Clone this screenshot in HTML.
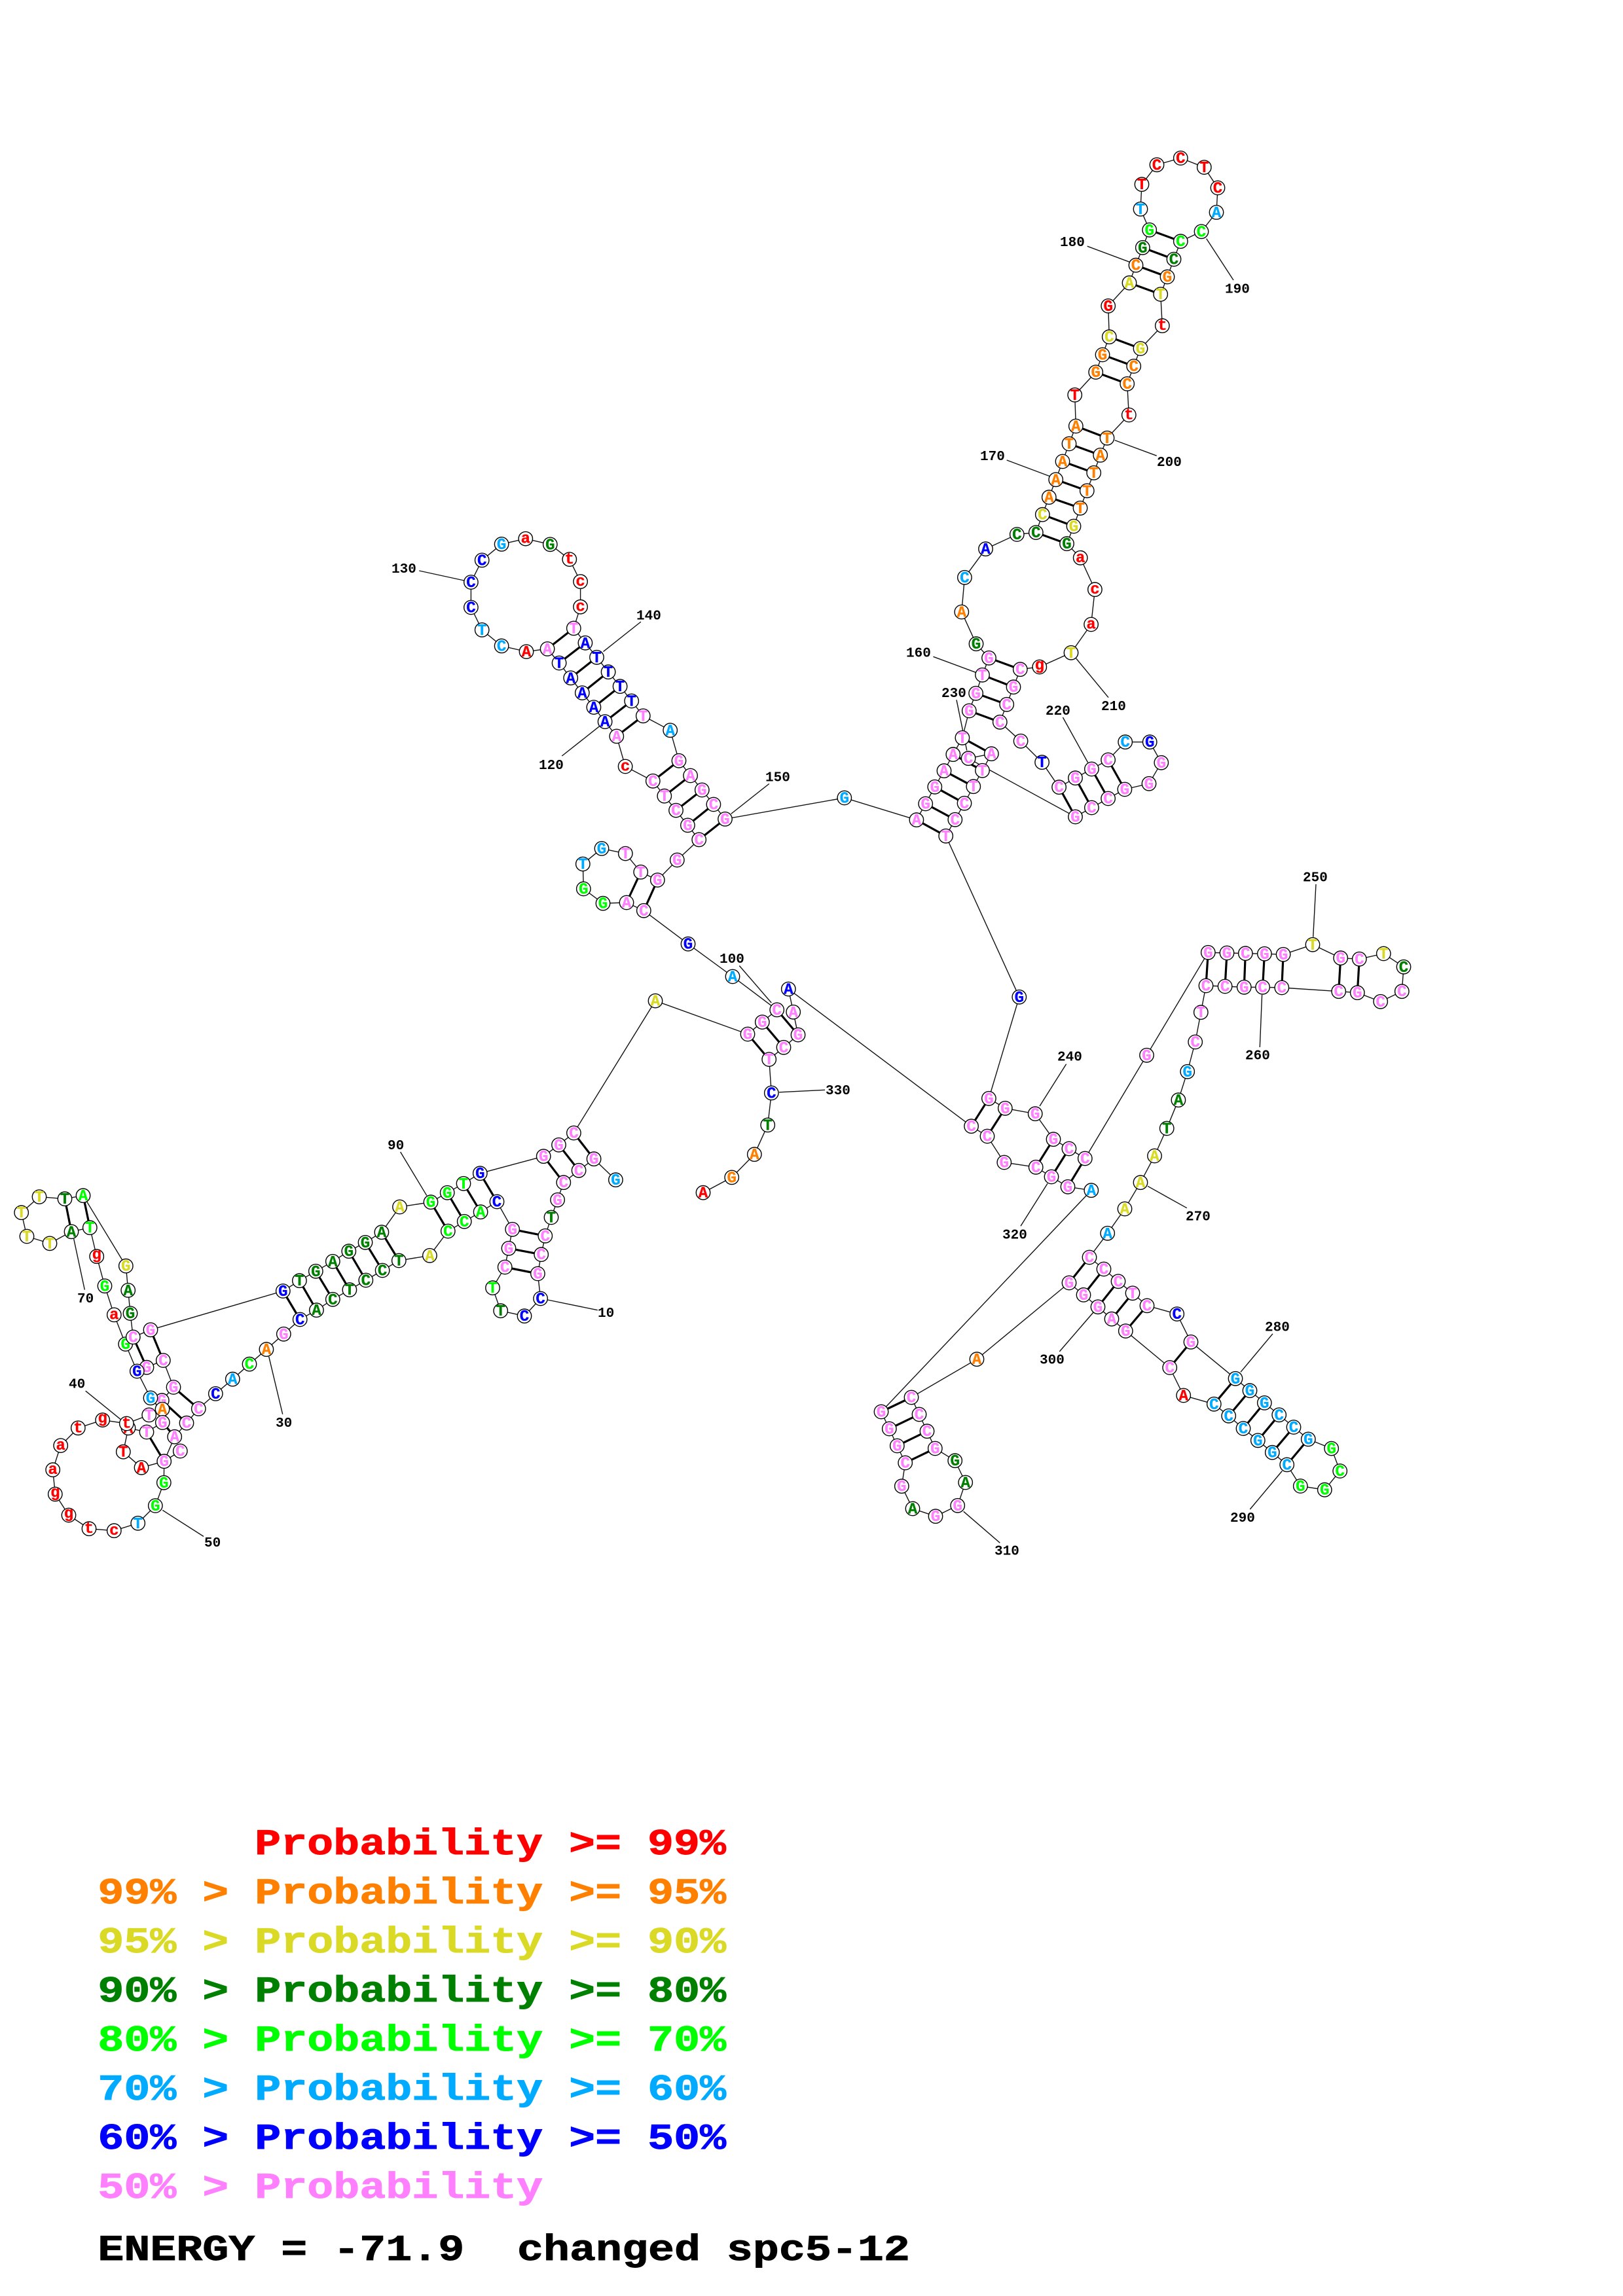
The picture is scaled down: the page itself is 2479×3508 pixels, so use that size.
<!DOCTYPE html>
<html><head><meta charset="utf-8"><title>RNA structure</title>
<style>
html,body{margin:0;padding:0;background:#fff}
svg{display:block}
.b0{fill:none;stroke:#111;stroke-width:1.4}
.bp{fill:none;stroke:#000;stroke-width:3.2}
circle{fill:#fff;stroke:#000;stroke-width:1.4}
.n text{font:bold 24px "Liberation Mono",monospace;text-anchor:middle;stroke-width:.35}
.num{font:bold 21px "Liberation Mono",monospace;fill:#000}
.leg{font:bold 56px "Liberation Mono",monospace;stroke-width:.9}
.r{fill:#f00;stroke:#f00}.o{fill:#ff8000;stroke:#ff8000}.y{fill:#d9d926;stroke:#d9d926}.d{fill:#008000;stroke:#008000}.l{fill:#0f0;stroke:#0f0}.s{fill:#00aaff;stroke:#00aaff}.b{fill:#00f;stroke:#00f}.p{fill:#ff80ff;stroke:#ff80ff}.k{fill:#000;stroke:#000}
</style></head><body>
<svg xmlns="http://www.w3.org/2000/svg" width="2479" height="3508" viewBox="0 0 2479 3508">
<rect width="2479" height="3508" fill="#fff"/>
<!-- backbone -->
<g class="b0">
<polyline points="940.4,1802.7 907.1,1770.7 884.1,1788.3 860.8,1806.7 851.6,1833.3 842,1860 832.8,1888.3 826.7,1916.7 821.4,1946 825.6,1984 801,2010.7 764.7,2002.7 752.5,1967.7 771.2,1936 777,1907.3 782.7,1878.3 759,1836 734.1,1851.7 709.2,1866.3 684.3,1881 656.4,1918.3 609.3,1926 584.1,1941 558.8,1956 533.9,1970.7 508.3,1985.3 483.4,2001.7 458.2,2016 433.3,2038.3 406.9,2061.7 381,2084.2 355.3,2107.2 329.3,2129.4 303.3,2152.4 285,2174.2 266.7,2195.2 250.7,2232.7 275.3,2217"/>
<polyline points="227.7,2161.9 193.3,2175 156.7,2169.6 119.3,2181.8 92.7,2208.6 80.7,2245.7 84.3,2282.9 105,2315 136,2335.7 174.3,2338.7 210.7,2327.3 237.3,2300.5 250.3,2265.3 250.7,2232.7 216,2242.3 188.3,2218.2 196,2181.8 224,2188 248.3,2173.4 248,2153.1 227.7,2161.9"/>
<polyline points="127,1826.7 99,1831.7 60,1828.6 32.7,1852.7 41,1889 76,1899.8 109,1881.8 137.3,1875.7 147.7,1919.7 160,1964.8 174.3,2008.9 191.7,2053.6 209.3,2095 230,2135.9 248,2153.1"/>
<polyline points="127,1826.7 192.3,1934.2 195.7,1971.4 199,2006.6 203.3,2042.9 230,2031.8 432.3,1972.5 457.4,1956.7 482.3,1942.3 508.3,1927.3 532.8,1911.7 558,1898.3 582.9,1882.7 610.5,1844 658,1836.7 683.2,1822.3 708,1808.3 733.3,1792.7 830.2,1766.7 853.5,1749.3 876.4,1731 1001,1529.1 1142,1580 1164.3,1561.6 1186.7,1542.9 1119,1492 1051,1442.2 983.3,1391.3 957,1379 921,1380.2 891.3,1358 890.3,1320.1 919,1296.4 955.3,1304.1 978.7,1332.4 1004.3,1344.6 1034.3,1314 1067.7,1282.9 1050.4,1260.9 1032.5,1238.1 1014.8,1216.2 997.3,1193.3 955.1,1171 941.8,1124.9 924.1,1102.6 906.9,1080.6 889.3,1058.6 871.7,1035.8 854.1,1013 836.1,991.4 804,995.6 766.1,986.9 736.2,962.4 719.4,928 719.4,889.5 736.2,855.9 766.1,831.4 802.8,823.1 840.3,831.8 869.8,854.6 886.6,888.6 886.6,927.2 876.3,959.9 893.9,982.3 911.5,1004.3 929.1,1026.7 947.1,1048.7 964.7,1071 982.3,1093.8 1023.7,1115.8 1037,1162.3 1054.6,1185 1072.3,1207 1089.9,1229 1107.5,1251.4 1289.8,1219 1399.9,1252.7 1413.7,1228 1427.8,1202.3 1442,1177.7 1455.8,1152.7 1469.9,1127.3 1480.3,1086 1490.6,1059.3 1500.5,1031.3 1510.5,1005.3 1491,983.7 1468.8,935 1473.4,882.3 1505.5,838.7 1553.3,816.5 1582.3,813.6 1592.3,786.2 1602.3,759.7 1612.7,732.8 1623,705 1633,678 1643.3,651 1641.7,603.4 1673.7,568.6 1684,542 1694.3,514.7 1692.7,467.4 1725,432.2 1735,405.2 1745.3,378.3 1755.7,351.3 1742,319.4 1744,281.7 1767,251.8 1803.3,241.5 1839.3,255.6 1860,287 1858,324.4 1835,353.8 1803.3,368.7 1793,396.1 1783,423 1772.7,449.6 1775.3,497.7 1742,532.5 1731.7,559.5 1721.7,586.4 1724.3,634 1691,669.3 1680.7,695.4 1670.7,722.4 1660.3,749.8 1650,776.3 1640,804 1629.5,830.7 1650.2,852.3 1672.4,900.7 1666.6,954 1636,997.3 1587.8,1019 1558.3,1022.7 1548,1049.7 1537.7,1076.3 1527.3,1103.3 1559.1,1132.3 1591.6,1164.7 1617.6,1202.7 1642.5,1188.7 1667.4,1175 1692.6,1161 1718.7,1133.7 1756.2,1133.7 1773.8,1165.3 1755,1197.3 1717.9,1206 1692.6,1220 1667.4,1234 1642.5,1248 1479.1,1158.7 1514.3,1151.7 1500.5,1177.3 1486.8,1201.7 1473,1227.3 1458.8,1252.3 1444.7,1277.3 1556.8,1523.3 1510.4,1678.3 1535.3,1693.3 1581.2,1701.7 1609,1740.7 1632.9,1755 1657.3,1770 1751.5,1612.3 1845.3,1455.3 1874,1456 1902.3,1456.7 1931.4,1457.3 1960.1,1458.3 2005,1443.3 2047.7,1463.7 2076.3,1465.3 2113.3,1457 2144,1477.3 2141.3,1514.7 2108.7,1530.3 2073.3,1516.7 2044.7,1514.7 1957.8,1509 1928.6,1508.3 1900.3,1508.3 1871.1,1507 1842,1506 1834.3,1546.7 1825.7,1592 1813.7,1637.3 1799.9,1680.7 1782.2,1724 1763.5,1766 1742,1806.7 1718,1847 1691.7,1884.3 1664,1921 1686,1939 1708,1957.8 1730,1975.8 1752,1994.9 1797.7,2007.6 1819,2050.4 1887,2106.3 1909,2124.7 1931.3,2143.4 1953.7,2161.8 1976,2180.5 1998.3,2198.9 2033.7,2213.1 2046.7,2247.5 2023.3,2276.2 1986.3,2270.5 1965.7,2237.9 1943.3,2219.2 1921.3,2200.8 1899,2182.5 1876.7,2163.3 1854.3,2145.3 1807.7,2132 1786.7,2089.5 1719.3,2033.6 1698,2015.2 1677,1996.8 1655,1978.4 1633,1960 1492,2076.7 1392,2135 1404,2161 1416,2186.7 1428.3,2213 1458.7,2231.7 1474.7,2265 1462.7,2300.3 1429,2316.7 1394,2305 1377.3,2270.7 1382.7,2235 1370.3,2209 1358.3,2183 1346,2157 1666.8,1818.7 1631,1813.3 1606,1798 1582.2,1783.3 1533.8,1776 1508,1736 1483.6,1720.7 1204.3,1511.1 1211.7,1546.3 1219,1581.1 1197,1600.3 1174.7,1618.6 1178.3,1669.9 1172.7,1718.9 1152.3,1763.7 1117.7,1798.9 1074,1822.2"/>
<polyline points="203.3,2042.9 224,2089.2 249.3,2078.5 265,2119.5 247.3,2139.7 248.3,2173.4"/>
<!-- number ticks -->
<path d="M836.3,1986L912.8,2001.7M431.7,2160.8L410.7,2072.8M130.7,2125.2L184,2168.4M248.3,2307.4L311,2347.5M112.7,1892.9L129.3,1970.6M611.6,1760L651.8,1826.7M1129.3,1475.5L1178.3,1532.2M858.3,1155L915.7,1109.6M640.2,872L709,887M978.9,950L921.5,995.6M1174.8,1197.5L1116.6,1243.5M1425.5,1003.3L1490.2,1027.3M1537.7,703L1602.7,727.4M1660.7,376.2L1725,400.2M1842.7,364.6L1884,428M1702.7,672.6L1766.7,696.3M1643.7,1006L1693,1065.7M1623.4,1096L1661.6,1165M1461,1069.3L1476.8,1146.7M1628.6,1625.7L1588,1690M2010,1351L2005.7,1431.7M1927.6,1520L1924.3,1600M1812.8,1845.7L1753,1812.3M1944,2037.8L1895,2096.3M1909.3,2306L1958.3,2247.5M1618.3,2065L1677,1997M1471.7,2309.3L1527.3,2357.3M1559,1873.3L1600,1808.3M1190,1668.8L1260,1665.3"/>
</g>
<!-- base pairs -->
<path class="bp" d="M782.7,1878.3L832.8,1888.3M777,1907.3L826.7,1916.7M771.2,1936L821.4,1946M876.4,1731L907.1,1770.7M853.5,1749.3L884.1,1788.3M830.2,1766.7L860.8,1806.7M733.3,1792.7L759,1836M708,1808.3L734.1,1851.7M683.2,1822.3L709.2,1866.3M658,1836.7L684.3,1881M582.9,1882.7L609.3,1926M558,1898.3L584.1,1941M532.8,1911.7L558.8,1956M508.3,1927.3L533.9,1970.7M482.3,1942.3L508.3,1985.3M457.4,1956.7L483.4,2001.7M432.3,1972.5L458.2,2016M99,1831.7L109,1881.8M127,1826.7L137.3,1875.7M230,2031.8L249.3,2078.5M203.3,2042.9L224,2089.2M265,2119.5L303.3,2152.4M247.3,2139.7L285,2174.2M248.3,2173.4L266.7,2195.2M224,2188L250.7,2232.7M978.7,1332.4L957,1379M1004.3,1344.6L983.3,1391.3M1186.7,1542.9L1219,1581.1M1164.3,1561.6L1197,1600.3M1142,1580L1174.7,1618.6M876.3,959.9L836.1,991.4M893.9,982.3L854.1,1013M911.5,1004.3L871.7,1035.8M929.1,1026.7L889.3,1058.6M947.1,1048.7L906.9,1080.6M964.7,1071L924.1,1102.6M982.3,1093.8L941.8,1124.9M1037,1162.3L997.3,1193.3M1054.6,1185L1014.8,1216.2M1072.3,1207L1032.5,1238.1M1089.9,1229L1050.4,1260.9M1107.5,1251.4L1067.7,1282.9M1510.5,1005.3L1558.3,1022.7M1500.5,1031.3L1548,1049.7M1490.6,1059.3L1537.7,1076.3M1480.3,1086L1527.3,1103.3M1469.9,1127.3L1514.3,1151.7M1455.8,1152.7L1500.5,1177.3M1442,1177.7L1486.8,1201.7M1427.8,1202.3L1473,1227.3M1413.7,1228L1458.8,1252.3M1399.9,1252.7L1444.7,1277.3M1617.6,1202.7L1642.5,1248M1642.5,1188.7L1667.4,1234M1667.4,1175L1692.6,1220M1692.6,1161L1717.9,1206M1582.3,813.6L1629.5,830.7M1592.3,786.2L1640,804M1602.3,759.7L1650,776.3M1612.7,732.8L1660.3,749.8M1623,705L1670.7,722.4M1633,678L1680.7,695.4M1643.3,651L1691,669.3M1673.7,568.6L1721.7,586.4M1684,542L1731.7,559.5M1694.3,514.7L1742,532.5M1725,432.2L1772.7,449.6M1735,405.2L1783,423M1745.3,378.3L1793,396.1M1755.7,351.3L1803.3,368.7M1510.4,1678.3L1483.6,1720.7M1535.3,1693.3L1508,1736M1609,1740.7L1582.2,1783.3M1632.9,1755L1606,1798M1657.3,1770L1631,1813.3M1845.3,1455.3L1842,1506M1874,1456L1871.1,1507M1902.3,1456.7L1900.3,1508.3M1931.4,1457.3L1928.6,1508.3M1960.1,1458.3L1957.8,1509M2047.7,1463.7L2044.7,1514.7M2076.3,1465.3L2073.3,1516.7M1664,1921L1633,1960M1686,1939L1655,1978.4M1708,1957.8L1677,1996.8M1730,1975.8L1698,2015.2M1752,1994.9L1719.3,2033.6M1819,2050.4L1786.7,2089.5M1887,2106.3L1854.3,2145.3M1909,2124.7L1876.7,2163.3M1931.3,2143.4L1899,2182.5M1953.7,2161.8L1921.3,2200.8M1976,2180.5L1943.3,2219.2M1998.3,2198.9L1965.7,2237.9M1392,2135L1346,2157M1404,2161L1358.3,2183M1416,2186.7L1370.3,2209M1428.3,2213L1382.7,2235"/>
<!-- nodes -->
<g class="n">
<circle cx="940.4" cy="1802.7" r="10.7"/><text class="s" x="940.4" y="1802.7" dy="7.5">G</text>
<circle cx="907.1" cy="1770.7" r="10.7"/><text class="p" x="907.1" y="1770.7" dy="7.5">G</text>
<circle cx="884.1" cy="1788.3" r="10.7"/><text class="p" x="884.1" y="1788.3" dy="7.5">C</text>
<circle cx="860.8" cy="1806.7" r="10.7"/><text class="p" x="860.8" y="1806.7" dy="7.5">C</text>
<circle cx="851.6" cy="1833.3" r="10.7"/><text class="p" x="851.6" y="1833.3" dy="7.5">G</text>
<circle cx="842" cy="1860" r="10.7"/><text class="d" x="842" y="1860" dy="7.5">T</text>
<circle cx="832.8" cy="1888.3" r="10.7"/><text class="p" x="832.8" y="1888.3" dy="7.5">C</text>
<circle cx="826.7" cy="1916.7" r="10.7"/><text class="p" x="826.7" y="1916.7" dy="7.5">C</text>
<circle cx="821.4" cy="1946" r="10.7"/><text class="p" x="821.4" y="1946" dy="7.5">G</text>
<circle cx="825.6" cy="1984" r="10.7"/><text class="b" x="825.6" y="1984" dy="7.5">C</text>
<circle cx="801" cy="2010.7" r="10.7"/><text class="b" x="801" y="2010.7" dy="7.5">C</text>
<circle cx="764.7" cy="2002.7" r="10.7"/><text class="d" x="764.7" y="2002.7" dy="7.5">T</text>
<circle cx="752.5" cy="1967.7" r="10.7"/><text class="l" x="752.5" y="1967.7" dy="7.5">T</text>
<circle cx="771.2" cy="1936" r="10.7"/><text class="p" x="771.2" y="1936" dy="7.5">C</text>
<circle cx="777" cy="1907.3" r="10.7"/><text class="p" x="777" y="1907.3" dy="7.5">G</text>
<circle cx="782.7" cy="1878.3" r="10.7"/><text class="p" x="782.7" y="1878.3" dy="7.5">G</text>
<circle cx="759" cy="1836" r="10.7"/><text class="b" x="759" y="1836" dy="7.5">C</text>
<circle cx="734.1" cy="1851.7" r="10.7"/><text class="l" x="734.1" y="1851.7" dy="7.5">A</text>
<circle cx="709.2" cy="1866.3" r="10.7"/><text class="l" x="709.2" y="1866.3" dy="7.5">C</text>
<circle cx="684.3" cy="1881" r="10.7"/><text class="l" x="684.3" y="1881" dy="7.5">C</text>
<circle cx="656.4" cy="1918.3" r="10.7"/><text class="y" x="656.4" y="1918.3" dy="7.5">A</text>
<circle cx="609.3" cy="1926" r="10.7"/><text class="d" x="609.3" y="1926" dy="7.5">T</text>
<circle cx="584.1" cy="1941" r="10.7"/><text class="d" x="584.1" y="1941" dy="7.5">C</text>
<circle cx="558.8" cy="1956" r="10.7"/><text class="d" x="558.8" y="1956" dy="7.5">C</text>
<circle cx="533.9" cy="1970.7" r="10.7"/><text class="d" x="533.9" y="1970.7" dy="7.5">T</text>
<circle cx="508.3" cy="1985.3" r="10.7"/><text class="d" x="508.3" y="1985.3" dy="7.5">C</text>
<circle cx="483.4" cy="2001.7" r="10.7"/><text class="d" x="483.4" y="2001.7" dy="7.5">A</text>
<circle cx="458.2" cy="2016" r="10.7"/><text class="b" x="458.2" y="2016" dy="7.5">C</text>
<circle cx="433.3" cy="2038.3" r="10.7"/><text class="p" x="433.3" y="2038.3" dy="7.5">G</text>
<circle cx="406.9" cy="2061.7" r="10.7"/><text class="o" x="406.9" y="2061.7" dy="7.5">A</text>
<circle cx="381" cy="2084.2" r="10.7"/><text class="l" x="381" y="2084.2" dy="7.5">C</text>
<circle cx="355.3" cy="2107.2" r="10.7"/><text class="s" x="355.3" y="2107.2" dy="7.5">A</text>
<circle cx="329.3" cy="2129.4" r="10.7"/><text class="b" x="329.3" y="2129.4" dy="7.5">C</text>
<circle cx="303.3" cy="2152.4" r="10.7"/><text class="p" x="303.3" y="2152.4" dy="7.5">C</text>
<circle cx="285" cy="2174.2" r="10.7"/><text class="p" x="285" y="2174.2" dy="7.5">C</text>
<circle cx="127" cy="1826.7" r="10.7"/><text class="l" x="127" y="1826.7" dy="7.5">A</text>
<circle cx="99" cy="1831.7" r="10.7"/><text class="d" x="99" y="1831.7" dy="7.5">T</text>
<circle cx="60" cy="1828.6" r="10.7"/><text class="y" x="60" y="1828.6" dy="7.5">T</text>
<circle cx="32.7" cy="1852.7" r="10.7"/><text class="y" x="32.7" y="1852.7" dy="7.5">T</text>
<circle cx="41" cy="1889" r="10.7"/><text class="y" x="41" y="1889" dy="7.5">T</text>
<circle cx="76" cy="1899.8" r="10.7"/><text class="y" x="76" y="1899.8" dy="7.5">T</text>
<circle cx="109" cy="1881.8" r="10.7"/><text class="d" x="109" y="1881.8" dy="7.5">A</text>
<circle cx="137.3" cy="1875.7" r="10.7"/><text class="l" x="137.3" y="1875.7" dy="7.5">T</text>
<circle cx="147.7" cy="1919.7" r="10.7"/><text class="r" x="147.7" y="1919.7" dy="4">g</text>
<circle cx="160" cy="1964.8" r="10.7"/><text class="l" x="160" y="1964.8" dy="7.5">G</text>
<circle cx="174.3" cy="2008.9" r="10.7"/><text class="r" x="174.3" y="2008.9" dy="6.5">a</text>
<circle cx="192.3" cy="1934.2" r="10.7"/><text class="y" x="192.3" y="1934.2" dy="7.5">G</text>
<circle cx="195.7" cy="1971.4" r="10.7"/><text class="d" x="195.7" y="1971.4" dy="7.5">A</text>
<circle cx="199" cy="2006.6" r="10.7"/><text class="d" x="199" y="2006.6" dy="7.5">G</text>
<circle cx="230" cy="2031.8" r="10.7"/><text class="p" x="230" y="2031.8" dy="7.5">G</text>
<circle cx="249.3" cy="2078.5" r="10.7"/><text class="p" x="249.3" y="2078.5" dy="7.5">C</text>
<circle cx="265" cy="2119.5" r="10.7"/><text class="p" x="265" y="2119.5" dy="7.5">G</text>
<circle cx="224" cy="2089.2" r="10.7"/><text class="p" x="224" y="2089.2" dy="7.5">G</text>
<circle cx="247.3" cy="2139.7" r="10.7"/><text class="p" x="247.3" y="2139.7" dy="7.5">G</text>
<circle cx="191.7" cy="2053.6" r="10.7"/><text class="l" x="191.7" y="2053.6" dy="7.5">G</text>
<circle cx="203.3" cy="2042.9" r="10.7"/><text class="p" x="203.3" y="2042.9" dy="7.5">C</text>
<circle cx="209.3" cy="2095" r="10.7"/><text class="b" x="209.3" y="2095" dy="7.5">G</text>
<circle cx="230" cy="2135.9" r="10.7"/><text class="s" x="230" y="2135.9" dy="7.5">G</text>
<circle cx="275.3" cy="2217" r="10.7"/><text class="p" x="275.3" y="2217" dy="7.5">C</text>
<circle cx="266.7" cy="2195.2" r="10.7"/><text class="p" x="266.7" y="2195.2" dy="7.5">A</text>
<circle cx="196" cy="2181.8" r="10.7"/><text class="r" x="196" y="2181.8" dy="7.5">A</text>
<circle cx="193.3" cy="2175" r="10.7"/><text class="r" x="193.3" y="2175" dy="6.5">t</text>
<circle cx="188.3" cy="2218.2" r="10.7"/><text class="r" x="188.3" y="2218.2" dy="7.5">T</text>
<circle cx="216" cy="2242.3" r="10.7"/><text class="r" x="216" y="2242.3" dy="7.5">A</text>
<circle cx="227.7" cy="2161.9" r="10.7"/><text class="p" x="227.7" y="2161.9" dy="7.5">T</text>
<circle cx="224" cy="2188" r="10.7"/><text class="p" x="224" y="2188" dy="7.5">T</text>
<circle cx="248" cy="2153.1" r="10.7"/><text class="o" x="248" y="2153.1" dy="7.5">A</text>
<circle cx="248.3" cy="2173.4" r="10.7"/><text class="p" x="248.3" y="2173.4" dy="7.5">G</text>
<circle cx="250.7" cy="2232.7" r="10.7"/><text class="p" x="250.7" y="2232.7" dy="7.5">G</text>
<circle cx="250.3" cy="2265.3" r="10.7"/><text class="l" x="250.3" y="2265.3" dy="7.5">G</text>
<circle cx="237.3" cy="2300.5" r="10.7"/><text class="l" x="237.3" y="2300.5" dy="7.5">G</text>
<circle cx="210.7" cy="2327.3" r="10.7"/><text class="s" x="210.7" y="2327.3" dy="7.5">T</text>
<circle cx="174.3" cy="2338.7" r="10.7"/><text class="r" x="174.3" y="2338.7" dy="6.5">c</text>
<circle cx="136" cy="2335.7" r="10.7"/><text class="r" x="136" y="2335.7" dy="6.5">t</text>
<circle cx="105" cy="2315" r="10.7"/><text class="r" x="105" y="2315" dy="4">g</text>
<circle cx="84.3" cy="2282.9" r="10.7"/><text class="r" x="84.3" y="2282.9" dy="4">g</text>
<circle cx="80.7" cy="2245.7" r="10.7"/><text class="r" x="80.7" y="2245.7" dy="6.5">a</text>
<circle cx="92.7" cy="2208.6" r="10.7"/><text class="r" x="92.7" y="2208.6" dy="6.5">a</text>
<circle cx="119.3" cy="2181.8" r="10.7"/><text class="r" x="119.3" y="2181.8" dy="6.5">t</text>
<circle cx="156.7" cy="2169.6" r="10.7"/><text class="r" x="156.7" y="2169.6" dy="4">g</text>
<circle cx="432.3" cy="1972.5" r="10.7"/><text class="b" x="432.3" y="1972.5" dy="7.5">G</text>
<circle cx="457.4" cy="1956.7" r="10.7"/><text class="d" x="457.4" y="1956.7" dy="7.5">T</text>
<circle cx="482.3" cy="1942.3" r="10.7"/><text class="d" x="482.3" y="1942.3" dy="7.5">G</text>
<circle cx="508.3" cy="1927.3" r="10.7"/><text class="d" x="508.3" y="1927.3" dy="7.5">A</text>
<circle cx="532.8" cy="1911.7" r="10.7"/><text class="d" x="532.8" y="1911.7" dy="7.5">G</text>
<circle cx="558" cy="1898.3" r="10.7"/><text class="d" x="558" y="1898.3" dy="7.5">G</text>
<circle cx="582.9" cy="1882.7" r="10.7"/><text class="d" x="582.9" y="1882.7" dy="7.5">A</text>
<circle cx="610.5" cy="1844" r="10.7"/><text class="y" x="610.5" y="1844" dy="7.5">A</text>
<circle cx="658" cy="1836.7" r="10.7"/><text class="l" x="658" y="1836.7" dy="7.5">G</text>
<circle cx="683.2" cy="1822.3" r="10.7"/><text class="l" x="683.2" y="1822.3" dy="7.5">G</text>
<circle cx="708" cy="1808.3" r="10.7"/><text class="l" x="708" y="1808.3" dy="7.5">T</text>
<circle cx="733.3" cy="1792.7" r="10.7"/><text class="b" x="733.3" y="1792.7" dy="7.5">G</text>
<circle cx="830.2" cy="1766.7" r="10.7"/><text class="p" x="830.2" y="1766.7" dy="7.5">G</text>
<circle cx="853.5" cy="1749.3" r="10.7"/><text class="p" x="853.5" y="1749.3" dy="7.5">G</text>
<circle cx="876.4" cy="1731" r="10.7"/><text class="p" x="876.4" y="1731" dy="7.5">C</text>
<circle cx="1001" cy="1529.1" r="10.7"/><text class="y" x="1001" y="1529.1" dy="7.5">A</text>
<circle cx="1142" cy="1580" r="10.7"/><text class="p" x="1142" y="1580" dy="7.5">G</text>
<circle cx="1164.3" cy="1561.6" r="10.7"/><text class="p" x="1164.3" y="1561.6" dy="7.5">G</text>
<circle cx="1186.7" cy="1542.9" r="10.7"/><text class="p" x="1186.7" y="1542.9" dy="7.5">C</text>
<circle cx="1204.3" cy="1511.1" r="10.7"/><text class="b" x="1204.3" y="1511.1" dy="7.5">A</text>
<circle cx="1211.7" cy="1546.3" r="10.7"/><text class="p" x="1211.7" y="1546.3" dy="7.5">A</text>
<circle cx="1219" cy="1581.1" r="10.7"/><text class="p" x="1219" y="1581.1" dy="7.5">G</text>
<circle cx="1197" cy="1600.3" r="10.7"/><text class="p" x="1197" y="1600.3" dy="7.5">C</text>
<circle cx="1174.7" cy="1618.6" r="10.7"/><text class="p" x="1174.7" y="1618.6" dy="7.5">T</text>
<circle cx="1178.3" cy="1669.9" r="10.7"/><text class="b" x="1178.3" y="1669.9" dy="7.5">C</text>
<circle cx="1172.7" cy="1718.9" r="10.7"/><text class="d" x="1172.7" y="1718.9" dy="7.5">T</text>
<circle cx="1152.3" cy="1763.7" r="10.7"/><text class="o" x="1152.3" y="1763.7" dy="7.5">A</text>
<circle cx="1117.7" cy="1798.9" r="10.7"/><text class="o" x="1117.7" y="1798.9" dy="7.5">G</text>
<circle cx="1074" cy="1822.2" r="10.7"/><text class="r" x="1074" y="1822.2" dy="7.5">A</text>
<circle cx="1119" cy="1492" r="10.7"/><text class="s" x="1119" y="1492" dy="7.5">A</text>
<circle cx="1051" cy="1442.2" r="10.7"/><text class="b" x="1051" y="1442.2" dy="7.5">G</text>
<circle cx="983.3" cy="1391.3" r="10.7"/><text class="p" x="983.3" y="1391.3" dy="7.5">C</text>
<circle cx="957" cy="1379" r="10.7"/><text class="p" x="957" y="1379" dy="7.5">A</text>
<circle cx="921" cy="1380.2" r="10.7"/><text class="l" x="921" y="1380.2" dy="7.5">G</text>
<circle cx="891.3" cy="1358" r="10.7"/><text class="l" x="891.3" y="1358" dy="7.5">G</text>
<circle cx="890.3" cy="1320.1" r="10.7"/><text class="s" x="890.3" y="1320.1" dy="7.5">T</text>
<circle cx="919" cy="1296.4" r="10.7"/><text class="s" x="919" y="1296.4" dy="7.5">G</text>
<circle cx="955.3" cy="1304.1" r="10.7"/><text class="p" x="955.3" y="1304.1" dy="7.5">T</text>
<circle cx="978.7" cy="1332.4" r="10.7"/><text class="p" x="978.7" y="1332.4" dy="7.5">T</text>
<circle cx="1004.3" cy="1344.6" r="10.7"/><text class="p" x="1004.3" y="1344.6" dy="7.5">G</text>
<circle cx="1034.3" cy="1314" r="10.7"/><text class="p" x="1034.3" y="1314" dy="7.5">G</text>
<circle cx="1067.7" cy="1282.9" r="10.7"/><text class="p" x="1067.7" y="1282.9" dy="7.5">C</text>
<circle cx="1050.4" cy="1260.9" r="10.7"/><text class="p" x="1050.4" y="1260.9" dy="7.5">G</text>
<circle cx="1032.5" cy="1238.1" r="10.7"/><text class="p" x="1032.5" y="1238.1" dy="7.5">C</text>
<circle cx="1014.8" cy="1216.2" r="10.7"/><text class="p" x="1014.8" y="1216.2" dy="7.5">T</text>
<circle cx="997.3" cy="1193.3" r="10.7"/><text class="p" x="997.3" y="1193.3" dy="7.5">C</text>
<circle cx="955.1" cy="1171" r="10.7"/><text class="r" x="955.1" y="1171" dy="6.5">c</text>
<circle cx="941.8" cy="1124.9" r="10.7"/><text class="p" x="941.8" y="1124.9" dy="7.5">A</text>
<circle cx="924.1" cy="1102.6" r="10.7"/><text class="b" x="924.1" y="1102.6" dy="7.5">A</text>
<circle cx="906.9" cy="1080.6" r="10.7"/><text class="b" x="906.9" y="1080.6" dy="7.5">A</text>
<circle cx="889.3" cy="1058.6" r="10.7"/><text class="b" x="889.3" y="1058.6" dy="7.5">A</text>
<circle cx="871.7" cy="1035.8" r="10.7"/><text class="b" x="871.7" y="1035.8" dy="7.5">A</text>
<circle cx="854.1" cy="1013" r="10.7"/><text class="b" x="854.1" y="1013" dy="7.5">T</text>
<circle cx="836.1" cy="991.4" r="10.7"/><text class="p" x="836.1" y="991.4" dy="7.5">A</text>
<circle cx="804" cy="995.6" r="10.7"/><text class="r" x="804" y="995.6" dy="7.5">A</text>
<circle cx="766.1" cy="986.9" r="10.7"/><text class="s" x="766.1" y="986.9" dy="7.5">C</text>
<circle cx="736.2" cy="962.4" r="10.7"/><text class="s" x="736.2" y="962.4" dy="7.5">T</text>
<circle cx="719.4" cy="928" r="10.7"/><text class="b" x="719.4" y="928" dy="7.5">C</text>
<circle cx="719.4" cy="889.5" r="10.7"/><text class="b" x="719.4" y="889.5" dy="7.5">C</text>
<circle cx="736.2" cy="855.9" r="10.7"/><text class="b" x="736.2" y="855.9" dy="7.5">C</text>
<circle cx="766.1" cy="831.4" r="10.7"/><text class="s" x="766.1" y="831.4" dy="7.5">G</text>
<circle cx="802.8" cy="823.1" r="10.7"/><text class="r" x="802.8" y="823.1" dy="6.5">a</text>
<circle cx="840.3" cy="831.8" r="10.7"/><text class="d" x="840.3" y="831.8" dy="7.5">G</text>
<circle cx="869.8" cy="854.6" r="10.7"/><text class="r" x="869.8" y="854.6" dy="6.5">t</text>
<circle cx="886.6" cy="888.6" r="10.7"/><text class="r" x="886.6" y="888.6" dy="6.5">c</text>
<circle cx="886.6" cy="927.2" r="10.7"/><text class="r" x="886.6" y="927.2" dy="6.5">c</text>
<circle cx="876.3" cy="959.9" r="10.7"/><text class="p" x="876.3" y="959.9" dy="7.5">T</text>
<circle cx="893.9" cy="982.3" r="10.7"/><text class="b" x="893.9" y="982.3" dy="7.5">A</text>
<circle cx="911.5" cy="1004.3" r="10.7"/><text class="b" x="911.5" y="1004.3" dy="7.5">T</text>
<circle cx="929.1" cy="1026.7" r="10.7"/><text class="b" x="929.1" y="1026.7" dy="7.5">T</text>
<circle cx="947.1" cy="1048.7" r="10.7"/><text class="b" x="947.1" y="1048.7" dy="7.5">T</text>
<circle cx="964.7" cy="1071" r="10.7"/><text class="b" x="964.7" y="1071" dy="7.5">T</text>
<circle cx="982.3" cy="1093.8" r="10.7"/><text class="p" x="982.3" y="1093.8" dy="7.5">T</text>
<circle cx="1023.7" cy="1115.8" r="10.7"/><text class="s" x="1023.7" y="1115.8" dy="7.5">A</text>
<circle cx="1037" cy="1162.3" r="10.7"/><text class="p" x="1037" y="1162.3" dy="7.5">G</text>
<circle cx="1054.6" cy="1185" r="10.7"/><text class="p" x="1054.6" y="1185" dy="7.5">A</text>
<circle cx="1072.3" cy="1207" r="10.7"/><text class="p" x="1072.3" y="1207" dy="7.5">G</text>
<circle cx="1089.9" cy="1229" r="10.7"/><text class="p" x="1089.9" y="1229" dy="7.5">C</text>
<circle cx="1107.5" cy="1251.4" r="10.7"/><text class="p" x="1107.5" y="1251.4" dy="7.5">G</text>
<circle cx="1289.8" cy="1219" r="10.7"/><text class="s" x="1289.8" y="1219" dy="7.5">G</text>
<circle cx="1399.9" cy="1252.7" r="10.7"/><text class="p" x="1399.9" y="1252.7" dy="7.5">A</text>
<circle cx="1413.7" cy="1228" r="10.7"/><text class="p" x="1413.7" y="1228" dy="7.5">G</text>
<circle cx="1427.8" cy="1202.3" r="10.7"/><text class="p" x="1427.8" y="1202.3" dy="7.5">G</text>
<circle cx="1442" cy="1177.7" r="10.7"/><text class="p" x="1442" y="1177.7" dy="7.5">A</text>
<circle cx="1455.8" cy="1152.7" r="10.7"/><text class="p" x="1455.8" y="1152.7" dy="7.5">A</text>
<circle cx="1469.9" cy="1127.3" r="10.7"/><text class="p" x="1469.9" y="1127.3" dy="7.5">T</text>
<circle cx="1480.3" cy="1086" r="10.7"/><text class="p" x="1480.3" y="1086" dy="7.5">G</text>
<circle cx="1490.6" cy="1059.3" r="10.7"/><text class="p" x="1490.6" y="1059.3" dy="7.5">G</text>
<circle cx="1500.5" cy="1031.3" r="10.7"/><text class="p" x="1500.5" y="1031.3" dy="7.5">T</text>
<circle cx="1510.5" cy="1005.3" r="10.7"/><text class="p" x="1510.5" y="1005.3" dy="7.5">G</text>
<circle cx="1491" cy="983.7" r="10.7"/><text class="d" x="1491" y="983.7" dy="7.5">G</text>
<circle cx="1468.8" cy="935" r="10.7"/><text class="o" x="1468.8" y="935" dy="7.5">A</text>
<circle cx="1473.4" cy="882.3" r="10.7"/><text class="s" x="1473.4" y="882.3" dy="7.5">C</text>
<circle cx="1505.5" cy="838.7" r="10.7"/><text class="b" x="1505.5" y="838.7" dy="7.5">A</text>
<circle cx="1553.3" cy="816.5" r="10.7"/><text class="d" x="1553.3" y="816.5" dy="7.5">C</text>
<circle cx="1582.3" cy="813.6" r="10.7"/><text class="d" x="1582.3" y="813.6" dy="7.5">C</text>
<circle cx="1592.3" cy="786.2" r="10.7"/><text class="y" x="1592.3" y="786.2" dy="7.5">C</text>
<circle cx="1602.3" cy="759.7" r="10.7"/><text class="o" x="1602.3" y="759.7" dy="7.5">A</text>
<circle cx="1612.7" cy="732.8" r="10.7"/><text class="o" x="1612.7" y="732.8" dy="7.5">A</text>
<circle cx="1623" cy="705" r="10.7"/><text class="o" x="1623" y="705" dy="7.5">A</text>
<circle cx="1633" cy="678" r="10.7"/><text class="o" x="1633" y="678" dy="7.5">T</text>
<circle cx="1643.3" cy="651" r="10.7"/><text class="o" x="1643.3" y="651" dy="7.5">A</text>
<circle cx="1641.7" cy="603.4" r="10.7"/><text class="r" x="1641.7" y="603.4" dy="7.5">T</text>
<circle cx="1673.7" cy="568.6" r="10.7"/><text class="o" x="1673.7" y="568.6" dy="7.5">G</text>
<circle cx="1684" cy="542" r="10.7"/><text class="o" x="1684" y="542" dy="7.5">G</text>
<circle cx="1694.3" cy="514.7" r="10.7"/><text class="y" x="1694.3" y="514.7" dy="7.5">C</text>
<circle cx="1692.7" cy="467.4" r="10.7"/><text class="r" x="1692.7" y="467.4" dy="7.5">G</text>
<circle cx="1725" cy="432.2" r="10.7"/><text class="y" x="1725" y="432.2" dy="7.5">A</text>
<circle cx="1735" cy="405.2" r="10.7"/><text class="o" x="1735" y="405.2" dy="7.5">C</text>
<circle cx="1745.3" cy="378.3" r="10.7"/><text class="d" x="1745.3" y="378.3" dy="7.5">G</text>
<circle cx="1755.7" cy="351.3" r="10.7"/><text class="l" x="1755.7" y="351.3" dy="7.5">G</text>
<circle cx="1742" cy="319.4" r="10.7"/><text class="s" x="1742" y="319.4" dy="7.5">T</text>
<circle cx="1744" cy="281.7" r="10.7"/><text class="r" x="1744" y="281.7" dy="7.5">T</text>
<circle cx="1767" cy="251.8" r="10.7"/><text class="r" x="1767" y="251.8" dy="7.5">C</text>
<circle cx="1803.3" cy="241.5" r="10.7"/><text class="r" x="1803.3" y="241.5" dy="7.5">C</text>
<circle cx="1839.3" cy="255.6" r="10.7"/><text class="r" x="1839.3" y="255.6" dy="7.5">T</text>
<circle cx="1860" cy="287" r="10.7"/><text class="r" x="1860" y="287" dy="7.5">C</text>
<circle cx="1858" cy="324.4" r="10.7"/><text class="s" x="1858" y="324.4" dy="7.5">A</text>
<circle cx="1835" cy="353.8" r="10.7"/><text class="l" x="1835" y="353.8" dy="7.5">C</text>
<circle cx="1803.3" cy="368.7" r="10.7"/><text class="l" x="1803.3" y="368.7" dy="7.5">C</text>
<circle cx="1793" cy="396.1" r="10.7"/><text class="d" x="1793" y="396.1" dy="7.5">C</text>
<circle cx="1783" cy="423" r="10.7"/><text class="o" x="1783" y="423" dy="7.5">G</text>
<circle cx="1772.7" cy="449.6" r="10.7"/><text class="y" x="1772.7" y="449.6" dy="7.5">T</text>
<circle cx="1775.3" cy="497.7" r="10.7"/><text class="r" x="1775.3" y="497.7" dy="6.5">t</text>
<circle cx="1742" cy="532.5" r="10.7"/><text class="y" x="1742" y="532.5" dy="7.5">G</text>
<circle cx="1731.7" cy="559.5" r="10.7"/><text class="o" x="1731.7" y="559.5" dy="7.5">C</text>
<circle cx="1721.7" cy="586.4" r="10.7"/><text class="o" x="1721.7" y="586.4" dy="7.5">C</text>
<circle cx="1724.3" cy="634" r="10.7"/><text class="r" x="1724.3" y="634" dy="6.5">t</text>
<circle cx="1691" cy="669.3" r="10.7"/><text class="o" x="1691" y="669.3" dy="7.5">T</text>
<circle cx="1680.7" cy="695.4" r="10.7"/><text class="o" x="1680.7" y="695.4" dy="7.5">A</text>
<circle cx="1670.7" cy="722.4" r="10.7"/><text class="o" x="1670.7" y="722.4" dy="7.5">T</text>
<circle cx="1660.3" cy="749.8" r="10.7"/><text class="o" x="1660.3" y="749.8" dy="7.5">T</text>
<circle cx="1650" cy="776.3" r="10.7"/><text class="o" x="1650" y="776.3" dy="7.5">T</text>
<circle cx="1640" cy="804" r="10.7"/><text class="y" x="1640" y="804" dy="7.5">G</text>
<circle cx="1629.5" cy="830.7" r="10.7"/><text class="d" x="1629.5" y="830.7" dy="7.5">G</text>
<circle cx="1650.2" cy="852.3" r="10.7"/><text class="r" x="1650.2" y="852.3" dy="6.5">a</text>
<circle cx="1672.4" cy="900.7" r="10.7"/><text class="r" x="1672.4" y="900.7" dy="6.5">c</text>
<circle cx="1666.6" cy="954" r="10.7"/><text class="r" x="1666.6" y="954" dy="6.5">a</text>
<circle cx="1636" cy="997.3" r="10.7"/><text class="y" x="1636" y="997.3" dy="7.5">T</text>
<circle cx="1587.8" cy="1019" r="10.7"/><text class="r" x="1587.8" y="1019" dy="4">g</text>
<circle cx="1558.3" cy="1022.7" r="10.7"/><text class="p" x="1558.3" y="1022.7" dy="7.5">C</text>
<circle cx="1548" cy="1049.7" r="10.7"/><text class="p" x="1548" y="1049.7" dy="7.5">G</text>
<circle cx="1537.7" cy="1076.3" r="10.7"/><text class="p" x="1537.7" y="1076.3" dy="7.5">C</text>
<circle cx="1527.3" cy="1103.3" r="10.7"/><text class="p" x="1527.3" y="1103.3" dy="7.5">C</text>
<circle cx="1559.1" cy="1132.3" r="10.7"/><text class="p" x="1559.1" y="1132.3" dy="7.5">C</text>
<circle cx="1591.6" cy="1164.7" r="10.7"/><text class="b" x="1591.6" y="1164.7" dy="7.5">T</text>
<circle cx="1617.6" cy="1202.7" r="10.7"/><text class="p" x="1617.6" y="1202.7" dy="7.5">C</text>
<circle cx="1642.5" cy="1188.7" r="10.7"/><text class="p" x="1642.5" y="1188.7" dy="7.5">G</text>
<circle cx="1667.4" cy="1175" r="10.7"/><text class="p" x="1667.4" y="1175" dy="7.5">G</text>
<circle cx="1692.6" cy="1161" r="10.7"/><text class="p" x="1692.6" y="1161" dy="7.5">C</text>
<circle cx="1718.7" cy="1133.7" r="10.7"/><text class="s" x="1718.7" y="1133.7" dy="7.5">C</text>
<circle cx="1756.2" cy="1133.7" r="10.7"/><text class="b" x="1756.2" y="1133.7" dy="7.5">G</text>
<circle cx="1773.8" cy="1165.3" r="10.7"/><text class="p" x="1773.8" y="1165.3" dy="7.5">G</text>
<circle cx="1755" cy="1197.3" r="10.7"/><text class="p" x="1755" y="1197.3" dy="7.5">G</text>
<circle cx="1717.9" cy="1206" r="10.7"/><text class="p" x="1717.9" y="1206" dy="7.5">G</text>
<circle cx="1692.6" cy="1220" r="10.7"/><text class="p" x="1692.6" y="1220" dy="7.5">C</text>
<circle cx="1667.4" cy="1234" r="10.7"/><text class="p" x="1667.4" y="1234" dy="7.5">C</text>
<circle cx="1642.5" cy="1248" r="10.7"/><text class="p" x="1642.5" y="1248" dy="7.5">G</text>
<circle cx="1514.3" cy="1151.7" r="10.7"/><text class="p" x="1514.3" y="1151.7" dy="7.5">A</text>
<circle cx="1500.5" cy="1177.3" r="10.7"/><text class="p" x="1500.5" y="1177.3" dy="7.5">T</text>
<circle cx="1479.1" cy="1158.7" r="10.7"/><text class="p" x="1479.1" y="1158.7" dy="7.5">C</text>
<circle cx="1486.8" cy="1201.7" r="10.7"/><text class="p" x="1486.8" y="1201.7" dy="7.5">T</text>
<circle cx="1473" cy="1227.3" r="10.7"/><text class="p" x="1473" y="1227.3" dy="7.5">C</text>
<circle cx="1458.8" cy="1252.3" r="10.7"/><text class="p" x="1458.8" y="1252.3" dy="7.5">C</text>
<circle cx="1444.7" cy="1277.3" r="10.7"/><text class="p" x="1444.7" y="1277.3" dy="7.5">T</text>
<circle cx="1556.8" cy="1523.3" r="10.7"/><text class="b" x="1556.8" y="1523.3" dy="7.5">G</text>
<circle cx="1510.4" cy="1678.3" r="10.7"/><text class="p" x="1510.4" y="1678.3" dy="7.5">G</text>
<circle cx="1535.3" cy="1693.3" r="10.7"/><text class="p" x="1535.3" y="1693.3" dy="7.5">G</text>
<circle cx="1581.2" cy="1701.7" r="10.7"/><text class="p" x="1581.2" y="1701.7" dy="7.5">G</text>
<circle cx="1609" cy="1740.7" r="10.7"/><text class="p" x="1609" y="1740.7" dy="7.5">G</text>
<circle cx="1632.9" cy="1755" r="10.7"/><text class="p" x="1632.9" y="1755" dy="7.5">C</text>
<circle cx="1657.3" cy="1770" r="10.7"/><text class="p" x="1657.3" y="1770" dy="7.5">C</text>
<circle cx="1666.8" cy="1818.7" r="10.7"/><text class="s" x="1666.8" y="1818.7" dy="7.5">A</text>
<circle cx="1631" cy="1813.3" r="10.7"/><text class="p" x="1631" y="1813.3" dy="7.5">G</text>
<circle cx="1606" cy="1798" r="10.7"/><text class="p" x="1606" y="1798" dy="7.5">G</text>
<circle cx="1582.2" cy="1783.3" r="10.7"/><text class="p" x="1582.2" y="1783.3" dy="7.5">C</text>
<circle cx="1533.8" cy="1776" r="10.7"/><text class="p" x="1533.8" y="1776" dy="7.5">G</text>
<circle cx="1508" cy="1736" r="10.7"/><text class="p" x="1508" y="1736" dy="7.5">C</text>
<circle cx="1483.6" cy="1720.7" r="10.7"/><text class="p" x="1483.6" y="1720.7" dy="7.5">C</text>
<circle cx="1751.5" cy="1612.3" r="10.7"/><text class="p" x="1751.5" y="1612.3" dy="7.5">G</text>
<circle cx="1845.3" cy="1455.3" r="10.7"/><text class="p" x="1845.3" y="1455.3" dy="7.5">G</text>
<circle cx="1874" cy="1456" r="10.7"/><text class="p" x="1874" y="1456" dy="7.5">G</text>
<circle cx="1902.3" cy="1456.7" r="10.7"/><text class="p" x="1902.3" y="1456.7" dy="7.5">C</text>
<circle cx="1931.4" cy="1457.3" r="10.7"/><text class="p" x="1931.4" y="1457.3" dy="7.5">G</text>
<circle cx="1960.1" cy="1458.3" r="10.7"/><text class="p" x="1960.1" y="1458.3" dy="7.5">G</text>
<circle cx="1842" cy="1506" r="10.7"/><text class="p" x="1842" y="1506" dy="7.5">C</text>
<circle cx="1871.1" cy="1507" r="10.7"/><text class="p" x="1871.1" y="1507" dy="7.5">C</text>
<circle cx="1900.3" cy="1508.3" r="10.7"/><text class="p" x="1900.3" y="1508.3" dy="7.5">G</text>
<circle cx="1928.6" cy="1508.3" r="10.7"/><text class="p" x="1928.6" y="1508.3" dy="7.5">C</text>
<circle cx="1957.8" cy="1509" r="10.7"/><text class="p" x="1957.8" y="1509" dy="7.5">C</text>
<circle cx="2005" cy="1443.3" r="10.7"/><text class="y" x="2005" y="1443.3" dy="7.5">T</text>
<circle cx="2047.7" cy="1463.7" r="10.7"/><text class="p" x="2047.7" y="1463.7" dy="7.5">G</text>
<circle cx="2076.3" cy="1465.3" r="10.7"/><text class="p" x="2076.3" y="1465.3" dy="7.5">C</text>
<circle cx="2113.3" cy="1457" r="10.7"/><text class="y" x="2113.3" y="1457" dy="7.5">T</text>
<circle cx="2144" cy="1477.3" r="10.7"/><text class="d" x="2144" y="1477.3" dy="7.5">C</text>
<circle cx="2141.3" cy="1514.7" r="10.7"/><text class="p" x="2141.3" y="1514.7" dy="7.5">C</text>
<circle cx="2108.7" cy="1530.3" r="10.7"/><text class="p" x="2108.7" y="1530.3" dy="7.5">C</text>
<circle cx="2073.3" cy="1516.7" r="10.7"/><text class="p" x="2073.3" y="1516.7" dy="7.5">G</text>
<circle cx="2044.7" cy="1514.7" r="10.7"/><text class="p" x="2044.7" y="1514.7" dy="7.5">C</text>
<circle cx="1834.3" cy="1546.7" r="10.7"/><text class="p" x="1834.3" y="1546.7" dy="7.5">T</text>
<circle cx="1825.7" cy="1592" r="10.7"/><text class="p" x="1825.7" y="1592" dy="7.5">C</text>
<circle cx="1813.7" cy="1637.3" r="10.7"/><text class="s" x="1813.7" y="1637.3" dy="7.5">G</text>
<circle cx="1799.9" cy="1680.7" r="10.7"/><text class="d" x="1799.9" y="1680.7" dy="7.5">A</text>
<circle cx="1782.2" cy="1724" r="10.7"/><text class="d" x="1782.2" y="1724" dy="7.5">T</text>
<circle cx="1763.5" cy="1766" r="10.7"/><text class="y" x="1763.5" y="1766" dy="7.5">A</text>
<circle cx="1742" cy="1806.7" r="10.7"/><text class="y" x="1742" y="1806.7" dy="7.5">A</text>
<circle cx="1718" cy="1847" r="10.7"/><text class="y" x="1718" y="1847" dy="7.5">A</text>
<circle cx="1691.7" cy="1884.3" r="10.7"/><text class="s" x="1691.7" y="1884.3" dy="7.5">A</text>
<circle cx="1664" cy="1921" r="10.7"/><text class="p" x="1664" y="1921" dy="7.5">C</text>
<circle cx="1686" cy="1939" r="10.7"/><text class="p" x="1686" y="1939" dy="7.5">C</text>
<circle cx="1708" cy="1957.8" r="10.7"/><text class="p" x="1708" y="1957.8" dy="7.5">C</text>
<circle cx="1730" cy="1975.8" r="10.7"/><text class="p" x="1730" y="1975.8" dy="7.5">T</text>
<circle cx="1752" cy="1994.9" r="10.7"/><text class="p" x="1752" y="1994.9" dy="7.5">C</text>
<circle cx="1633" cy="1960" r="10.7"/><text class="p" x="1633" y="1960" dy="7.5">G</text>
<circle cx="1655" cy="1978.4" r="10.7"/><text class="p" x="1655" y="1978.4" dy="7.5">G</text>
<circle cx="1677" cy="1996.8" r="10.7"/><text class="p" x="1677" y="1996.8" dy="7.5">G</text>
<circle cx="1698" cy="2015.2" r="10.7"/><text class="p" x="1698" y="2015.2" dy="7.5">A</text>
<circle cx="1719.3" cy="2033.6" r="10.7"/><text class="p" x="1719.3" y="2033.6" dy="7.5">G</text>
<circle cx="1797.7" cy="2007.6" r="10.7"/><text class="b" x="1797.7" y="2007.6" dy="7.5">C</text>
<circle cx="1819" cy="2050.4" r="10.7"/><text class="p" x="1819" y="2050.4" dy="7.5">G</text>
<circle cx="1786.7" cy="2089.5" r="10.7"/><text class="p" x="1786.7" y="2089.5" dy="7.5">C</text>
<circle cx="1807.7" cy="2132" r="10.7"/><text class="r" x="1807.7" y="2132" dy="7.5">A</text>
<circle cx="1854.3" cy="2145.3" r="10.7"/><text class="s" x="1854.3" y="2145.3" dy="7.5">C</text>
<circle cx="1876.7" cy="2163.3" r="10.7"/><text class="s" x="1876.7" y="2163.3" dy="7.5">C</text>
<circle cx="1899" cy="2182.5" r="10.7"/><text class="s" x="1899" y="2182.5" dy="7.5">C</text>
<circle cx="1921.3" cy="2200.8" r="10.7"/><text class="s" x="1921.3" y="2200.8" dy="7.5">G</text>
<circle cx="1943.3" cy="2219.2" r="10.7"/><text class="s" x="1943.3" y="2219.2" dy="7.5">G</text>
<circle cx="1965.7" cy="2237.9" r="10.7"/><text class="s" x="1965.7" y="2237.9" dy="7.5">C</text>
<circle cx="1986.3" cy="2270.5" r="10.7"/><text class="l" x="1986.3" y="2270.5" dy="7.5">G</text>
<circle cx="2023.3" cy="2276.2" r="10.7"/><text class="l" x="2023.3" y="2276.2" dy="7.5">G</text>
<circle cx="2046.7" cy="2247.5" r="10.7"/><text class="l" x="2046.7" y="2247.5" dy="7.5">C</text>
<circle cx="2033.7" cy="2213.1" r="10.7"/><text class="l" x="2033.7" y="2213.1" dy="7.5">G</text>
<circle cx="1998.3" cy="2198.9" r="10.7"/><text class="s" x="1998.3" y="2198.9" dy="7.5">G</text>
<circle cx="1976" cy="2180.5" r="10.7"/><text class="s" x="1976" y="2180.5" dy="7.5">C</text>
<circle cx="1953.7" cy="2161.8" r="10.7"/><text class="s" x="1953.7" y="2161.8" dy="7.5">C</text>
<circle cx="1931.3" cy="2143.4" r="10.7"/><text class="s" x="1931.3" y="2143.4" dy="7.5">G</text>
<circle cx="1909" cy="2124.7" r="10.7"/><text class="s" x="1909" y="2124.7" dy="7.5">G</text>
<circle cx="1887" cy="2106.3" r="10.7"/><text class="s" x="1887" y="2106.3" dy="7.5">G</text>
<circle cx="1492" cy="2076.7" r="10.7"/><text class="o" x="1492" y="2076.7" dy="7.5">A</text>
<circle cx="1392" cy="2135" r="10.7"/><text class="p" x="1392" y="2135" dy="7.5">C</text>
<circle cx="1346" cy="2157" r="10.7"/><text class="p" x="1346" y="2157" dy="7.5">G</text>
<circle cx="1404" cy="2161" r="10.7"/><text class="p" x="1404" y="2161" dy="7.5">C</text>
<circle cx="1358.3" cy="2183" r="10.7"/><text class="p" x="1358.3" y="2183" dy="7.5">G</text>
<circle cx="1416" cy="2186.7" r="10.7"/><text class="p" x="1416" y="2186.7" dy="7.5">C</text>
<circle cx="1370.3" cy="2209" r="10.7"/><text class="p" x="1370.3" y="2209" dy="7.5">G</text>
<circle cx="1428.3" cy="2213" r="10.7"/><text class="p" x="1428.3" y="2213" dy="7.5">G</text>
<circle cx="1382.7" cy="2235" r="10.7"/><text class="p" x="1382.7" y="2235" dy="7.5">C</text>
<circle cx="1458.7" cy="2231.7" r="10.7"/><text class="d" x="1458.7" y="2231.7" dy="7.5">G</text>
<circle cx="1474.7" cy="2265" r="10.7"/><text class="d" x="1474.7" y="2265" dy="7.5">A</text>
<circle cx="1462.7" cy="2300.3" r="10.7"/><text class="p" x="1462.7" y="2300.3" dy="7.5">G</text>
<circle cx="1429" cy="2316.7" r="10.7"/><text class="p" x="1429" y="2316.7" dy="7.5">G</text>
<circle cx="1394" cy="2305" r="10.7"/><text class="d" x="1394" y="2305" dy="7.5">A</text>
<circle cx="1377.3" cy="2270.7" r="10.7"/><text class="p" x="1377.3" y="2270.7" dy="7.5">G</text>
</g>
<!-- numbers -->
<g class="num">
<text x="913" y="2012">10</text>
<text x="421" y="2180">30</text>
<text x="105" y="2120.6">40</text>
<text x="312" y="2363">50</text>
<text x="118" y="1990">70</text>
<text x="592" y="1756">90</text>
<text x="1099" y="1471">100</text>
<text x="823" y="1175">120</text>
<text x="598" y="875">130</text>
<text x="972" y="946.7">140</text>
<text x="1169" y="1193.3">150</text>
<text x="1384" y="1003.3">160</text>
<text x="1497" y="703">170</text>
<text x="1619" y="376.2">180</text>
<text x="1871" y="447.5">190</text>
<text x="1767" y="712">200</text>
<text x="1682" y="1085">210</text>
<text x="1597" y="1092">220</text>
<text x="1438" y="1065">230</text>
<text x="1615" y="1620.7">240</text>
<text x="1990" y="1346.7">250</text>
<text x="1902" y="1618.3">260</text>
<text x="1811" y="1864.5">270</text>
<text x="1932" y="2033.6">280</text>
<text x="1879" y="2325">290</text>
<text x="1588" y="2083.3">300</text>
<text x="1519" y="2375.7">310</text>
<text x="1531" y="1892.3">320</text>
<text x="1261" y="1671.8">330</text>
</g>
<!-- legend -->
<g transform="scale(1.19 1)" class="leg">
<text class="r" x="327" y="2833">Probability &gt;= 99%</text>
<text class="o" x="125.5" y="2908">99% &gt; Probability &gt;= 95%</text>
<text class="y" x="125.5" y="2983">95% &gt; Probability &gt;= 90%</text>
<text class="d" x="125.5" y="3058">90% &gt; Probability &gt;= 80%</text>
<text class="l" x="125.5" y="3133">80% &gt; Probability &gt;= 70%</text>
<text class="s" x="125.5" y="3208">70% &gt; Probability &gt;= 60%</text>
<text class="b" x="125.5" y="3283">60% &gt; Probability &gt;= 50%</text>
<text class="p" x="125.5" y="3358">50% &gt; Probability</text>
<text class="k" x="125.5" y="3453">ENERGY = -71.9</text>
<text class="k" x="663.9" y="3453">changed spc5-12</text>
</g>
</svg>
</body></html>
